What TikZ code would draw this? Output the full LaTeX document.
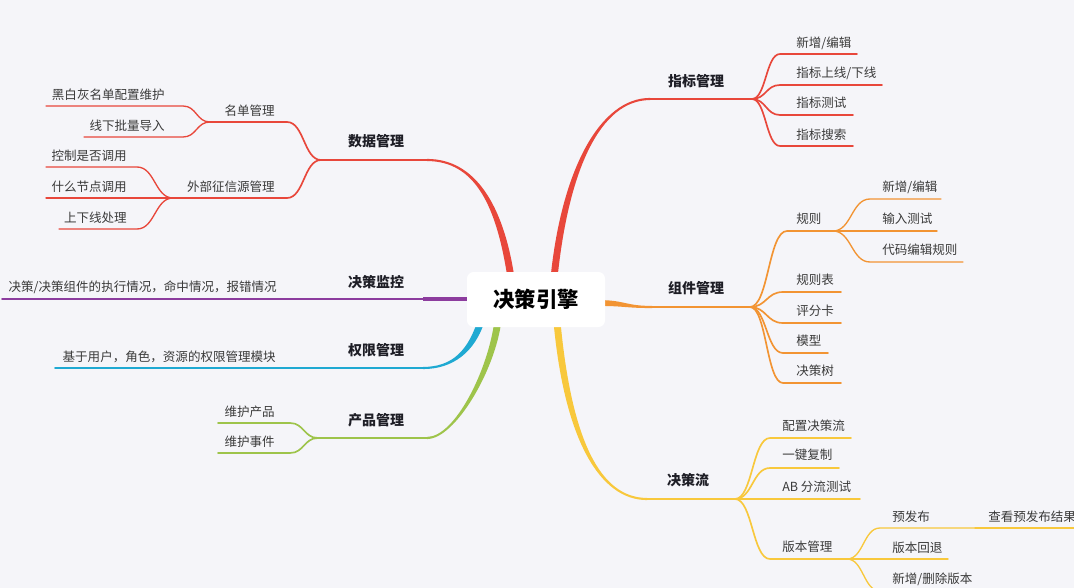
\documentclass[tikz,border=0pt]{standalone}
\usepackage{fontspec}
\setmainfont{Noto Sans CJK SC}
\usetikzlibrary{calc}
\definecolor{bgc}{HTML}{F5F5F9}
\definecolor{cred}{HTML}{E8473B}
\definecolor{corg}{HTML}{F29433}
\definecolor{cyel}{HTML}{F8C83C}
\definecolor{cpur}{HTML}{8C3C9E}
\definecolor{ccya}{HTML}{1FA9D2}
\definecolor{cgrn}{HTML}{9EC44B}
\definecolor{txt}{HTML}{3A3A3A}
\definecolor{mtxt}{HTML}{1E1E26}
% tapered main branch: colour, P0, C1, C2, P3, half width at P0, half width at P3
\newcommand\taperbr[7]{%
  \fill[#1] ($(#2)!#6!90:(#3)$) .. controls ($(#3)!#6!-90:(#2)$) and ($(#4)!#7!90:(#5)$) .. ($(#5)!#7!-90:(#4)$)
    -- ($(#5)!#7!90:(#4)$) .. controls ($(#4)!#7!-90:(#5)$) and ($(#3)!#6!90:(#2)$) .. ($(#2)!#6!-90:(#3)$) -- cycle;}
% S-shaped connector from fork #2 to #3, then underline to #4
\newcommand\conn[4]{%
  \draw[#1] let \p1=(#2), \p2=(#3) in (\p1) .. controls ({0.5*\x1+0.5*\x2},\y1) and ({0.5*\x1+0.5*\x2},\y2) .. (\p2) -- (#4);}
\begin{document}
\begin{tikzpicture}[x=0.75pt,y=-0.75pt,
  leaftxt/.style={font=\fontsize{9.4}{11}\selectfont, text=txt, inner sep=0pt},
  maintxt/.style={font=\fontsize{10.5}{12}\selectfont\bfseries, text=mtxt, inner sep=0pt},
  roottxt/.style={font=\fontsize{16}{19}\selectfont\bfseries, text=black, fill=white, rounded corners=5pt, minimum width=103.5pt, minimum height=41.25pt, inner sep=0pt},
  lv1/.style={line width=1.6pt, line cap=round},
  lv2/.style={line width=1.25pt, line cap=round},
  lv3/.style={line width=1pt, line cap=round},
  lv4/.style={line width=0.8pt, line cap=round}]
\useasboundingbox (0,0) rectangle (1074,588);
\clip (0,0) rectangle (1074,588);
\fill[bgc] (0,0) rectangle (1074,588);

% ---------- 数据管理 (red, left top)
\coordinate (dA) at (511,278); \coordinate (dB) at (500,205);
\coordinate (dC) at (475,160); \coordinate (dD) at (427,160);
\coordinate (dF) at (321,160);
\taperbr{cred}{dA}{dB}{dC}{dD}{2.6pt}{0.8pt}
\draw[lv1,cred] (dD) -- (dF);
\coordinate (mdA) at (287,122); \coordinate (mdF) at (210,122);
\conn{lv2,cred}{dF}{mdA}{mdF}
\coordinate (h1a) at (183,106); \coordinate (h1b) at (46,106);
\conn{lv3,cred}{mdF}{h1a}{h1b}
\coordinate (h2a) at (183,137); \coordinate (h2b) at (84,137);
\conn{lv3,cred}{mdF}{h2a}{h2b}
\coordinate (wbA) at (287,198); \coordinate (wbF) at (173,198);
\conn{lv2,cred}{dF}{wbA}{wbF}
\coordinate (w1a) at (137,167); \coordinate (w1b) at (46,167);
\conn{lv3,cred}{wbF}{w1a}{w1b}
\coordinate (w2a) at (137,198); \coordinate (w2b) at (46,198);
\conn{lv3,cred}{wbF}{w2a}{w2b}
\coordinate (w3a) at (137,229); \coordinate (w3b) at (59,229);
\conn{lv3,cred}{wbF}{w3a}{w3b}
\node[maintxt] (t-data) at (376,141) {数据管理};
\node[leaftxt,anchor=east] (t-md) at (275,111) {名单管理};
\node[leaftxt,anchor=east] (t-h1) at (165,95) {黑白灰名单配置维护};
\node[leaftxt,anchor=east] (t-h2) at (165,126) {线下批量导入};
\node[leaftxt,anchor=east] (t-wb) at (275,187) {外部征信源管理};
\node[leaftxt,anchor=east] (t-w1) at (127,156) {控制是否调用};
\node[leaftxt,anchor=east] (t-w2) at (127,187) {什么节点调用};
\node[leaftxt,anchor=east] (t-w3) at (127,218) {上下线处理};

% ---------- 决策监控 (purple)
\coordinate (jmA) at (470,299); \coordinate (jmD) at (423,299);
\coordinate (jmF) at (320,299); \coordinate (jmE) at (2,299);
\draw[line width=3pt,cpur] (jmA) -- (jmD);
\draw[lv1,cpur] (jmD) -- (jmF);
\draw[lv2,cpur] (jmF) -- (jmE);
\node[maintxt] (t-jm) at (376,282) {决策监控};
\node[leaftxt,anchor=east] (t-jm1) at (277,287) {决策/决策组件的执行情况，命中情况，报错情况};

% ---------- 权限管理 (cyan)
\coordinate (qA) at (482,318); \coordinate (qB) at (472,352);
\coordinate (qC) at (452,368); \coordinate (qD) at (423,368);
\coordinate (qF) at (320,368); \coordinate (qE) at (55,368);
\taperbr{ccya}{qA}{qB}{qC}{qD}{2.6pt}{0.8pt}
\draw[lv1,ccya] (qD) -- (qF);
\draw[lv2,ccya] (qF) -- (qE);
\node[maintxt] (t-qx) at (376,350) {权限管理};
\node[leaftxt,anchor=east] (t-qx1) at (276,357) {基于用户，角色，资源的权限管理模块};

% ---------- 产品管理 (green)
\coordinate (pA) at (498,320); \coordinate (pB) at (492,370);
\coordinate (pC) at (455,438); \coordinate (pD) at (427,438);
\coordinate (pF) at (318,438);
\taperbr{cgrn}{pA}{pB}{pC}{pD}{2.6pt}{0.8pt}
\draw[lv1,cgrn] (pD) -- (pF);
\coordinate (p1a) at (290,423); \coordinate (p1b) at (218,423);
\conn{lv2,cgrn}{pF}{p1a}{p1b}
\coordinate (p2a) at (290,453); \coordinate (p2b) at (218,453);
\conn{lv2,cgrn}{pF}{p2a}{p2b}
\node[maintxt] (t-cp) at (376,420) {产品管理};
\node[leaftxt,anchor=east] (t-p1) at (275,412) {维护产品};
\node[leaftxt,anchor=east] (t-p2) at (275,442) {维护事件};

% ---------- 指标管理 (red, right top)
\coordinate (zA) at (554,278); \coordinate (zB) at (565,170);
\coordinate (zC) at (600,99); \coordinate (zD) at (650,99);
\coordinate (zF) at (752,99);
\taperbr{cred}{zA}{zB}{zC}{zD}{2.6pt}{0.8pt}
\draw[lv1,cred] (zD) -- (zF);
\coordinate (z1a) at (780,54); \coordinate (z1b) at (857,54);
\conn{lv2,cred}{zF}{z1a}{z1b}
\coordinate (z2a) at (780,85); \coordinate (z2b) at (882,85);
\conn{lv2,cred}{zF}{z2a}{z2b}
\coordinate (z3a) at (780,115); \coordinate (z3b) at (853,115);
\conn{lv2,cred}{zF}{z3a}{z3b}
\coordinate (z4a) at (780,146); \coordinate (z4b) at (853,146);
\conn{lv2,cred}{zF}{z4a}{z4b}
\node[maintxt] (t-zb) at (696,81) {指标管理};
\node[leaftxt,anchor=west] (t-z1) at (796,43) {新增/编辑};
\node[leaftxt,anchor=west] (t-z2) at (796,73) {指标上线/下线};
\node[leaftxt,anchor=west] (t-z3) at (796,103) {指标测试};
\node[leaftxt,anchor=west] (t-z4) at (796,135) {指标搜索};

% ---------- 组件管理 (orange)
\coordinate (oA) at (598,303); \coordinate (oB) at (625,303);
\coordinate (oC) at (625,307); \coordinate (oD) at (652,307);
\coordinate (oF) at (750,307);
\taperbr{corg}{oA}{oB}{oC}{oD}{2.2pt}{0.8pt}
\draw[lv1,corg] (oD) -- (oF);
\coordinate (gzA) at (787,231); \coordinate (gzF) at (833,231);
\conn{lv2,corg}{oF}{gzA}{gzF}
\coordinate (g1a) at (870,199); \coordinate (g1b) at (941,199);
\conn{lv3,corg}{gzF}{g1a}{g1b}
\coordinate (g2a) at (870,231); \coordinate (g2b) at (937,231);
\conn{lv3,corg}{gzF}{g2a}{g2b}
\coordinate (g3a) at (870,262); \coordinate (g3b) at (963,262);
\conn{lv3,corg}{gzF}{g3a}{g3b}
\coordinate (o1a) at (783,292); \coordinate (o1b) at (841,292);
\conn{lv2,corg}{oF}{o1a}{o1b}
\coordinate (o2a) at (783,323); \coordinate (o2b) at (841,323);
\conn{lv2,corg}{oF}{o2a}{o2b}
\coordinate (o3a) at (783,353); \coordinate (o3b) at (828,353);
\conn{lv2,corg}{oF}{o3a}{o3b}
\coordinate (o4a) at (783,383); \coordinate (o4b) at (841,383);
\conn{lv2,corg}{oF}{o4a}{o4b}
\node[maintxt] (t-zj) at (696,288) {组件管理};
\node[leaftxt,anchor=west] (t-gz) at (796,219) {规则};
\node[leaftxt,anchor=west] (t-g1) at (882,187) {新增/编辑};
\node[leaftxt,anchor=west] (t-g2) at (882,219) {输入测试};
\node[leaftxt,anchor=west] (t-g3) at (882,250) {代码编辑规则};
\node[leaftxt,anchor=west] (t-o1) at (796,280) {规则表};
\node[leaftxt,anchor=west] (t-o2) at (796,311) {评分卡};
\node[leaftxt,anchor=west] (t-o3) at (796,341) {模型};
\node[leaftxt,anchor=west] (t-o4) at (796,371) {决策树};

% ---------- 决策流 (yellow)
\coordinate (jA) at (557,322); \coordinate (jB) at (568,440);
\coordinate (jC) at (600,499); \coordinate (jD) at (647,499);
\coordinate (jF) at (735,499);
\taperbr{cyel}{jA}{jB}{jC}{jD}{2.6pt}{0.8pt}
\draw[lv1,cyel] (jD) -- (jF);
\coordinate (j1a) at (770,438); \coordinate (j1b) at (851,438);
\conn{lv2,cyel}{jF}{j1a}{j1b}
\coordinate (j2a) at (770,468); \coordinate (j2b) at (839,468);
\conn{lv2,cyel}{jF}{j2a}{j2b}
\coordinate (j3a) at (770,499); \coordinate (j3b) at (860,499);
\conn{lv2,cyel}{jF}{j3a}{j3b}
\coordinate (bbA) at (770,559); \coordinate (bbF) at (847,559);
\conn{lv2,cyel}{jF}{bbA}{bbF}
\coordinate (b1a) at (880,528); \coordinate (b1b) at (975,528);
\conn{lv3,cyel}{bbF}{b1a}{b1b}
\coordinate (b1c) at (1080,528);
\draw[lv3,cyel] (b1b) -- (b1c);
\coordinate (b2a) at (880,559); \coordinate (b2b) at (948,559);
\conn{lv3,cyel}{bbF}{b2a}{b2b}
\coordinate (b3a) at (880,591); \coordinate (b3b) at (985,591);
\conn{lv3,cyel}{bbF}{b3a}{b3b}
\node[maintxt] (t-jc) at (688,480) {决策流};
\node[leaftxt,anchor=west] (t-j1) at (782,426) {配置决策流};
\node[leaftxt,anchor=west] (t-j2) at (782,455) {一键复制};
\node[leaftxt,anchor=west] (t-j3) at (782,487) {AB 分流测试};
\node[leaftxt,anchor=west] (t-bb) at (782,547) {版本管理};
\node[leaftxt,anchor=west] (t-b1) at (892,517) {预发布};
\node[leaftxt,anchor=west] (t-b1x) at (988,517) {查看预发布结果};
\node[leaftxt,anchor=west] (t-b2) at (892,548) {版本回退};
\node[leaftxt,anchor=west] (t-b3) at (892,579) {新增/删除版本};

% ---------- root
\node[roottxt] (root) at (536,299.5) {决策引擎};
\end{tikzpicture}
\end{document}
